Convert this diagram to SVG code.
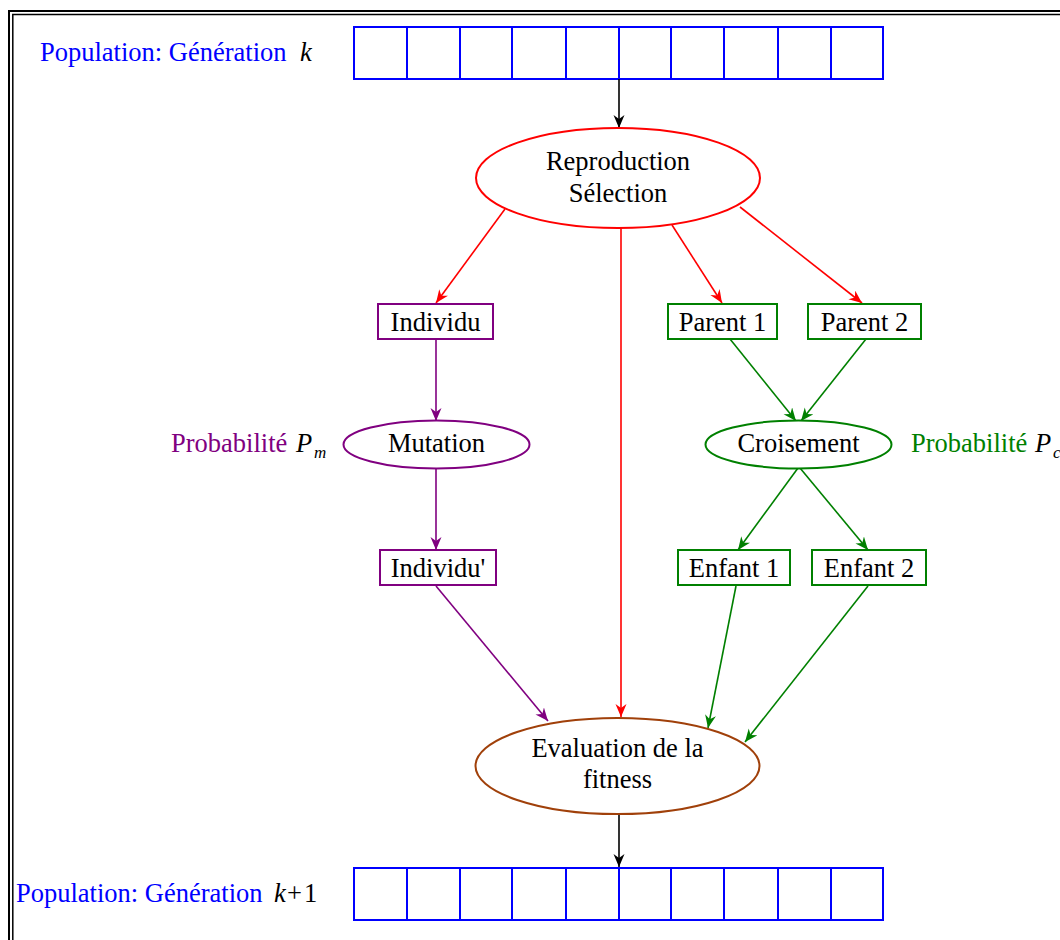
<svg xmlns="http://www.w3.org/2000/svg" width="1060" height="940" viewBox="0 0 1060 940">
<style>
text{font-family:"Liberation Serif","Times New Roman",serif;font-size:26.5px;fill:#000}
.c{text-anchor:middle}
.it{font-style:italic}
.sub{font-style:italic;font-size:17px}
.blue{fill:#0000ff}.pur{fill:#800080}.grn{fill:#008000}
.pop{fill:#fff;stroke:#0000ff;stroke-width:2}
.box{fill:#fff;stroke-width:2}
.e{stroke-width:1.6;fill:none}
</style>
<defs>
<marker id="ak" markerUnits="userSpaceOnUse" markerWidth="15" markerHeight="12" refX="13" refY="5.5" orient="auto"><path d="M0,0 L13,5.5 L0,11 L4,5.5 z" fill="#000"/></marker>
<marker id="ar" markerUnits="userSpaceOnUse" markerWidth="15" markerHeight="12" refX="13" refY="5.5" orient="auto"><path d="M0,0 L13,5.5 L0,11 L4,5.5 z" fill="#ff0000"/></marker>
<marker id="ap" markerUnits="userSpaceOnUse" markerWidth="15" markerHeight="12" refX="13" refY="5.5" orient="auto"><path d="M0,0 L13,5.5 L0,11 L4,5.5 z" fill="#800080"/></marker>
<marker id="ag" markerUnits="userSpaceOnUse" markerWidth="15" markerHeight="12" refX="13" refY="5.5" orient="auto"><path d="M0,0 L13,5.5 L0,11 L4,5.5 z" fill="#008000"/></marker>
</defs>
<rect width="1060" height="940" fill="#fff"/>
<g id="frame" fill="none" stroke="#000">
<rect x="9" y="11" width="1080" height="960" stroke-width="2"/>
<rect x="12.8" y="14.5" width="1080" height="960" stroke-width="1.5"/>
</g>
<g id="pop-k">
<text x="40" y="61" class="blue">Population: Génération</text>
<text x="300" y="61" class="it">k</text>
<rect class="pop" x="354" y="27" width="529" height="52"/>
<path d="M407,27V79M460,27V79M512,27V79M566,27V79M619,27V79M671,27V79M724,27V79M778,27V79M831,27V79" stroke="#0000ff" stroke-width="2"/>
</g>
<g id="pop-k1">
<text x="16" y="902" class="blue">Population: Génération</text>
<text x="274" y="902" class="it">k</text>
<text x="287" y="902">+</text>
<text x="304" y="902">1</text>
<rect class="pop" x="354" y="868" width="529" height="52"/>
<path d="M407,868V920M460,868V920M512,868V920M566,868V920M619,868V920M671,868V920M724,868V920M778,868V920M831,868V920" stroke="#0000ff" stroke-width="2"/>
</g>
<g id="connectors" class="e">
<path d="M619,79V128" stroke="#000" marker-end="url(#ak)"/>
<path d="M619,813V867" stroke="#000" marker-end="url(#ak)"/>
<path d="M505,209L436,303" stroke="#ff0000" marker-end="url(#ar)"/>
<path d="M621,228V717" stroke="#ff0000" marker-end="url(#ar)"/>
<path d="M672,225L722,303" stroke="#ff0000" marker-end="url(#ar)"/>
<path d="M740,207L862,303" stroke="#ff0000" marker-end="url(#ar)"/>
<path d="M436,339V421" stroke="#800080" marker-end="url(#ap)"/>
<path d="M436,468V550" stroke="#800080" marker-end="url(#ap)"/>
<path d="M436,586L548,721" stroke="#800080" marker-end="url(#ap)"/>
<path d="M730,339L796,421" stroke="#008000" marker-end="url(#ag)"/>
<path d="M866,339L801,421" stroke="#008000" marker-end="url(#ag)"/>
<path d="M798,468L738,550" stroke="#008000" marker-end="url(#ag)"/>
<path d="M800,468L868,550" stroke="#008000" marker-end="url(#ag)"/>
<path d="M736,586L708,728" stroke="#008000" marker-end="url(#ag)"/>
<path d="M868,586L745,742" stroke="#008000" marker-end="url(#ag)"/>
</g>
<g id="reproduction">
<ellipse cx="618" cy="178" rx="142" ry="50" fill="#fff" stroke="#ff0000" stroke-width="2"/>
<text x="618" y="170" class="c">Reproduction</text>
<text x="618" y="202" class="c">Sélection</text>
</g>
<g id="individu">
<rect class="box" x="378" y="304" width="115" height="35" stroke="#800080"/>
<text x="435.5" y="331" class="c">Individu</text>
</g>
<g id="parent1">
<rect class="box" x="668" y="304" width="109" height="35" stroke="#008000"/>
<text x="722.5" y="331" class="c">Parent 1</text>
</g>
<g id="parent2">
<rect class="box" x="808" y="304" width="113" height="35" stroke="#008000"/>
<text x="864.5" y="331" class="c">Parent 2</text>
</g>
<g id="mutation">
<ellipse cx="436.5" cy="444.5" rx="93" ry="24" fill="#fff" stroke="#800080" stroke-width="2"/>
<text x="436.5" y="452" class="c">Mutation</text>
<text x="171" y="452" class="pur">Probabilité</text>
<text x="296" y="452" class="it">P</text>
<text x="314" y="458" class="sub">m</text>
</g>
<g id="croisement">
<ellipse cx="798.5" cy="444.5" rx="93" ry="24" fill="#fff" stroke="#008000" stroke-width="2"/>
<text x="798.5" y="452" class="c">Croisement</text>
<text x="911" y="452" class="grn">Probabilité</text>
<text x="1035" y="452" class="it">P</text>
<text x="1053" y="458" class="sub">c</text>
</g>
<g id="individu2">
<rect class="box" x="380" y="550" width="116" height="35" stroke="#800080"/>
<text x="438" y="577" class="c">Individu'</text>
</g>
<g id="enfant1">
<rect class="box" x="678" y="550" width="112" height="35" stroke="#008000"/>
<text x="734" y="577" class="c">Enfant 1</text>
</g>
<g id="enfant2">
<rect class="box" x="812" y="550" width="114" height="35" stroke="#008000"/>
<text x="869" y="577" class="c">Enfant 2</text>
</g>
<g id="evaluation">
<ellipse cx="617.5" cy="766" rx="142" ry="48" fill="#fff" stroke="#a0400a" stroke-width="2"/>
<text x="617.5" y="757" class="c">Evaluation de la</text>
<text x="617.5" y="788" class="c">fitness</text>
</g>
</svg>
